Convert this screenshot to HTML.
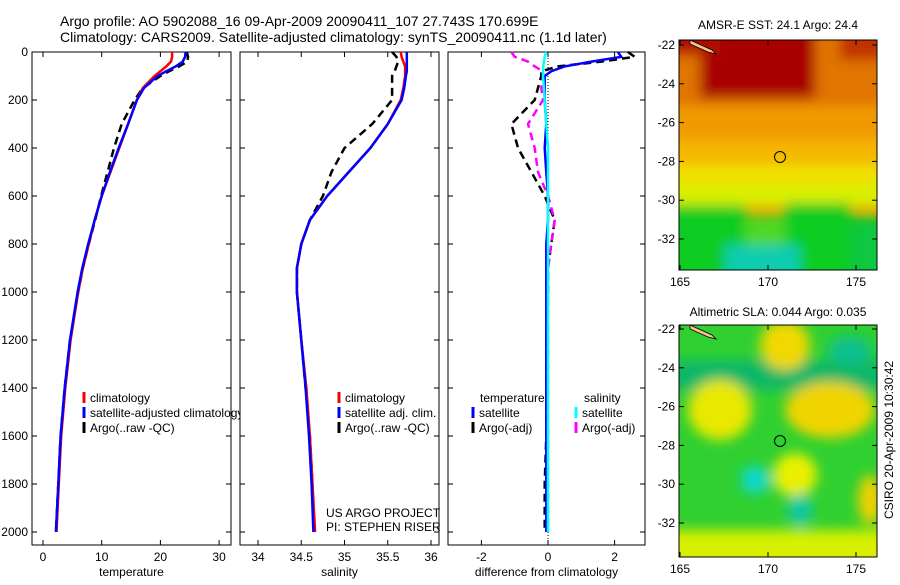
<!DOCTYPE html>
<html><head><meta charset="utf-8"><style>
body{margin:0;background:#fff;width:900px;height:580px;overflow:hidden;font-family:"Liberation Sans",sans-serif}
text{font-family:"Liberation Sans",sans-serif;fill:#000}
</style></head><body>
<svg id="s" width="900" height="580" xmlns="http://www.w3.org/2000/svg">
<defs>
<filter id="bl" x="-10%" y="-10%" width="120%" height="120%"><feGaussianBlur stdDeviation="6"/></filter>
<clipPath id="c1"><rect x="679" y="40" width="198" height="230"/></clipPath>
<clipPath id="c2"><rect x="679" y="325" width="198" height="232"/></clipPath>
</defs>
<text x="60" y="26" font-size="14">Argo profile: AO 5902088_16 09-Apr-2009 20090411_107 27.743S 170.699E</text>
<text x="60" y="42" font-size="14">Climatology: CARS2009. Satellite-adjusted climatology: synTS_20090411.nc (1.1d later)</text>
<g clip-path="url(#c1)">
<rect x="679" y="40" width="198" height="230" fill="#f09a00"/>
<g filter="url(#bl)">
<rect x="660" y="20" width="240" height="85" fill="#e07400"/>
<rect x="700" y="20" width="115" height="78" fill="#a80000"/>
<rect x="660" y="20" width="60" height="35" fill="#b00800"/>
<rect x="840" y="20" width="50" height="40" fill="#c03000"/>
<rect x="660" y="140" width="240" height="30" fill="#f5b800"/>
<rect x="660" y="165" width="240" height="22" fill="#f0e000"/>
<rect x="660" y="185" width="240" height="22" fill="#d8f000"/>
<rect x="660" y="215" width="240" height="70" fill="#10cc20"/>
<rect x="660" y="205" width="85" height="80" fill="#10cc20"/>
<rect x="745" y="218" width="40" height="60" fill="#50d820"/>
<rect x="785" y="203" width="65" height="80" fill="#08cc20"/>
<rect x="850" y="222" width="50" height="60" fill="#10c840"/>
<rect x="725" y="245" width="75" height="40" fill="#10ccb0"/>
</g>
<path d="M690,40 L712,50 L716,54 L708,52 L690,44Z" fill="#f8c090" stroke="#000" stroke-width="0.8"/>
</g>
<rect x="679" y="40" width="198" height="230" fill="none" stroke="#000"/>
<circle cx="780" cy="157" r="5.5" fill="none" stroke="#000"/>
<text x="778" y="29" font-size="12" text-anchor="middle">AMSR-E SST: 24.1 Argo: 24.4</text>
<g clip-path="url(#c2)">
<rect x="679" y="325" width="198" height="232" fill="#30d030"/>
<g filter="url(#bl)">
<rect x="660" y="360" width="240" height="30" fill="#10b868"/>
<ellipse cx="785" cy="345" rx="25" ry="25" fill="#f0d800"/>
<ellipse cx="720" cy="410" rx="32" ry="30" fill="#e8e800"/>
<ellipse cx="830" cy="410" rx="45" ry="28" fill="#f0d400"/>
<ellipse cx="795" cy="475" rx="22" ry="22" fill="#e8f000"/>
<ellipse cx="755" cy="480" rx="15" ry="14" fill="#10d8c8"/>
<ellipse cx="800" cy="510" rx="12" ry="16" fill="#10c8a8"/>
<ellipse cx="850" cy="350" rx="22" ry="14" fill="#10c090"/>
<rect x="660" y="530" width="240" height="40" fill="#d8f000"/>
<ellipse cx="870" cy="500" rx="12" ry="25" fill="#f0d000"/>
</g>
<path d="M690,325 L712,335 L716,339 L708,337 L690,329Z" fill="#f8c090" stroke="#000" stroke-width="0.8"/>
</g>
<rect x="679" y="325" width="198" height="232" fill="none" stroke="#000"/>
<circle cx="780" cy="441" r="5.5" fill="none" stroke="#000"/>
<text x="778" y="316" font-size="12" text-anchor="middle">Altimetric SLA: 0.044 Argo: 0.035</text>
<text transform="translate(893,440) rotate(-90)" font-size="12" text-anchor="middle">CSIRO 20-Apr-2009 10:30:42</text>
<g id="g"></g>
</svg>
<script>
const depths=[0,20,40,60,80,100,150,200,300,400,500,600,700,800,900,1000,1200,1400,1600,1800,2000];
const tClim=[22,22,21.8,21,20,19,17,16,14.5,13,11.5,10,8.8,7.8,6.8,6,4.7,3.8,3.1,2.7,2.3];
const tSat=[24.3,24.2,23.8,22.6,21,19.5,17.2,16,14.5,12.9,11.4,10,8.8,7.7,6.7,5.9,4.6,3.7,3.0,2.6,2.2];
const tArgo=[24.5,24.7,24.6,23.2,21.5,20,17,15.6,13.4,12.1,11,9.9,8.9,7.8,6.8,6,4.6,3.7,3.0,2.6,2.2];
const sClim=[35.65,35.66,35.68,35.7,35.7,35.7,35.68,35.65,35.5,35.3,35.05,34.8,34.6,34.5,34.45,34.45,34.5,34.56,34.6,34.63,34.66];
const sSat=[35.72,35.72,35.72,35.72,35.72,35.71,35.69,35.66,35.5,35.3,35.05,34.8,34.6,34.5,34.45,34.45,34.5,34.55,34.59,34.62,34.64];
const sArgo=[35.55,35.6,35.62,35.6,35.58,35.55,35.55,35.55,35.32,35.0,34.85,34.75,34.6,34.5,34.45,34.45,34.5,34.55,34.6,34.63,34.65];
const dT=[2.1,2.2,1.3,0.5,0.1,-0.1,-0.1,-0.1,-0.05,-0.1,-0.05,0,0,-0.05,-0.05,-0.05,-0.05,-0.05,-0.05,-0.05,-0.05];
const dTArgo=[2.4,2.6,1.6,0.3,-0.2,-0.2,-0.3,-0.4,-1.1,-0.9,-0.5,-0.1,0.2,0.1,0,0,-0.05,-0.05,-0.05,-0.1,-0.1];
const dS=[-0.05,-0.1,-0.12,-0.14,-0.15,-0.15,-0.12,-0.1,-0.05,0,0,0,0,0,0,0,0,0,0,0,0];
const dSArgo=[-1.1,-1.0,-0.6,-0.4,-0.15,-0.15,-0.2,-0.15,-0.6,-0.4,-0.3,0,0.2,0.1,0,0,0,0,0,0,0];
const yTicks=[0,200,400,600,800,1000,1200,1400,1600,1800,2000];
const tTicks=[0,10,20,30], sTicks=[34,34.5,35,35.5,36], dTicks=[-2,0,2];
const latTicks=[-22,-24,-26,-28,-30,-32], lonTicks=[165,170,175];
const NS="http://www.w3.org/2000/svg", G=document.getElementById('g');
function mk(t,a,p){const e=document.createElementNS(NS,t);for(const k in a)e.setAttribute(k,a[k]);(p||G).appendChild(e);return e;}
const yD=d=>52+d*0.24, yTop=52, yBot=545;
const panels=[
 {x0:32,x1:231,f:v=>43+v*5.87,ticks:tTicks,lab:'temperature',n:'temperature'},
 {x0:240,x1:439,f:v=>258+(v-34)*86.5,ticks:sTicks,lab:'salinity',n:'salinity'},
 {x0:448,x1:645,f:v=>548+v*33.3,ticks:dTicks,lab:'difference from climatology',n:'difference'}];
panels.forEach((p,i)=>{
 let r=mk('rect',{x:p.x0,y:yTop,width:p.x1-p.x0,height:yBot-yTop,fill:'#fff',stroke:'#000'});
 
 
 p.ticks.forEach(v=>{const x=p.f(v);
  mk('line',{x1:x,x2:x,y1:yBot,y2:yBot-5,stroke:'#000'});mk('line',{x1:x,x2:x,y1:yTop,y2:yTop+5,stroke:'#000'});
  const t=mk('text',{x:x,y:561,'font-size':12,'text-anchor':'middle'});t.textContent=v;
  
  });
 yTicks.forEach(d=>{const y=yD(d);
  mk('line',{x1:p.x0,x2:p.x0+5,y1:y,y2:y,stroke:'#000'});mk('line',{x1:p.x1,x2:p.x1-5,y1:y,y2:y,stroke:'#000'});});
 const t=mk('text',{x:(p.x0+p.x1)/2,y:576,'font-size':12,'text-anchor':'middle'});t.textContent=p.lab;
 
 
});
yTicks.forEach(d=>{const t=mk('text',{x:28,y:yD(d)+4,'font-size':12,'text-anchor':'end'});t.textContent=d;
 
 });
function line(p,vals,col,dash,w,name){
 const pts=vals.map((v,i)=>p.f(v).toFixed(1)+','+yD(depths[i]).toFixed(1)).join(' ');
 const a={points:pts,fill:'none',stroke:col,'stroke-width':w||2.5};if(dash)a['stroke-dasharray']=dash;
 const e=mk('polyline',a);
 
 }
const P=panels;
line(P[0],tArgo,'#000','8,5',2.5,'temp-argo-line');
line(P[0],tClim,'#f00',null,2.5,'temp-climatology-line');
line(P[0],tSat,'#00f',null,2.5,'temp-satellite-line');
line(P[1],sArgo,'#000','8,5',2.5,'sal-argo-line');
line(P[1],sClim,'#f00',null,2.5,'sal-climatology-line');
line(P[1],sSat,'#00f',null,2.5,'sal-satellite-line');
const z=mk('line',{x1:P[2].f(0),x2:P[2].f(0),y1:yTop,y2:yBot,stroke:'#000','stroke-dasharray':'1,2'});


line(P[2],dTArgo,'#000','8,5',2.5,'diff-temp-argo-line');
line(P[2],dSArgo,'#f0f','8,5',2.5,'diff-sal-argo-line');
line(P[2],dT,'#00f',null,2.5,'diff-temp-satellite-line');
line(P[2],dS,'#0ff',null,2.5,'diff-sal-satellite-line');
function leg(x,y,col,txt,name){const l=mk('line',{x1:x,x2:x,y1:y-10,y2:y+1,stroke:col,'stroke-width':3});
 
 
 const t=mk('text',{x:x+6,y:y,'font-size':12});t.textContent=txt;
 
 }
leg(84,402,'#f00','climatology','legend-climatology');
leg(84,417,'#00f','satellite-adjusted climatology','legend-satellite');
leg(84,432,'#000','Argo(..raw -QC)','legend-argo');
const cv=mk('rect',{x:240,y:395,width:6,height:40,fill:'#fff'});


mk('line',{x1:240,x2:240,y1:yTop,y2:yBot,stroke:'#000'});
leg(339,402,'#f00','climatology','legend2-climatology');
leg(339,417,'#00f','satellite adj. clim.','legend2-satellite');
leg(339,432,'#000','Argo(..raw -QC)','legend2-argo');
[['temperature',480,402],['salinity',584,402],['US ARGO PROJECT',326,517],['PI: STEPHEN RISER',326,531]].forEach(a=>{
 const t=mk('text',{x:a[1],y:a[2],'font-size':12});t.textContent=a[0];
 
 });
leg(473,417,'#00f','satellite','legend3-temp-satellite');
leg(473,432,'#000','Argo(-adj)','legend3-temp-argo');
leg(576,417,'#0ff','satellite','legend3-sal-satellite');
leg(576,432,'#f0f','Argo(-adj)','legend3-sal-argo');
[[40,270,45,'sst'],[325,557,329,'sla']].forEach(m=>{
 latTicks.forEach(L=>{const y=m[2]+(-22-L)*19.4;
  mk('line',{x1:679,x2:684,y1:y,y2:y,stroke:'#000'});mk('line',{x1:877,x2:872,y1:y,y2:y,stroke:'#000'});
  const t=mk('text',{x:675,y:y+4,'font-size':12,'text-anchor':'end'});t.textContent=L;
  
  });
 lonTicks.forEach(o=>{const x=680+(o-165)*17.6;
  mk('line',{x1:x,x2:x,y1:m[1],y2:m[1]-5,stroke:'#000'});mk('line',{x1:x,x2:x,y1:m[0],y2:m[0]+5,stroke:'#000'});
  const t=mk('text',{x:x,y:m[1]+16,'font-size':12,'text-anchor':'middle'});t.textContent=o;
  
  });
});
</script>
</body></html>
